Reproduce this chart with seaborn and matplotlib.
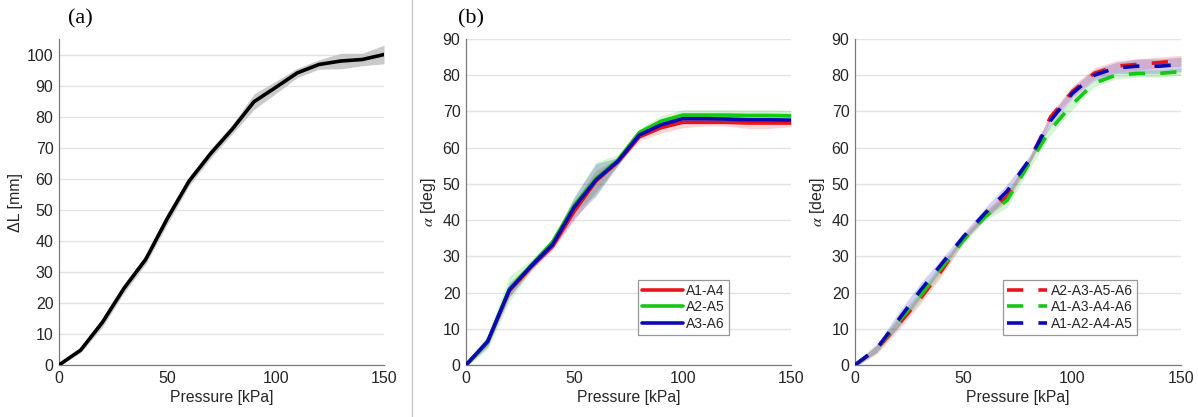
import numpy as np
import pandas as pd
import matplotlib
matplotlib.use("Agg")
import matplotlib.pyplot as plt
import seaborn as sns

# ---------------- data ----------------
pressure = [0, 10, 20, 30, 40, 50, 60, 70, 80, 90, 100, 110, 120, 130, 140, 150]

# (a) elongation
dL_mean = [0, 4.8, 13.7, 24.7, 34, 47.2, 59.2, 68.1, 76, 84.8, 89.4, 94.1, 96.8, 97.9, 98.4, 100]
dL_sd = [0.3, 0.8, 1.5, 1.5, 1.5, 1.8, 1.5, 1.5, 1.5, 2.5, 2.0, 1.5, 1.5, 2.5, 2.0, 3.0]

# (b) bending, two-actuator pairs
b_labels = ["A1-A4", "A2-A5", "A3-A6"]
b_A1A4 = [0, 6.4, 20.5, 27, 32.8, 42.5, 50.8, 56, 63, 65.5, 67, 67, 67, 66.8, 66.8, 66.8]
b_A2A5 = [0, 6.4, 21, 27.5, 34, 44.2, 51.5, 56.5, 64.2, 67.3, 69, 69, 69, 68.9, 68.9, 68.8]
b_A3A6 = [0, 6.5, 20.7, 27.3, 33.3, 43.6, 51.1, 56.2, 63.5, 66.3, 68, 68, 67.9, 67.7, 67.7, 67.6]
b_A1A4_sd = [0.5, 1.0, 1.5, 1.0, 1.0, 2.5, 3.0, 1.0, 1.0, 1.5, 1.5, 1.0, 1.0, 1.5, 1.5, 1.0]
b_A2A5_sd = [0.5, 2.0, 3.5, 1.5, 1.0, 2.0, 4.5, 1.5, 1.0, 1.5, 1.5, 1.5, 1.5, 1.5, 1.5, 1.5]
b_A3A6_sd = [0.5, 1.5, 2.0, 1.0, 1.0, 3.0, 4.5, 1.0, 1.0, 1.0, 1.0, 1.0, 1.0, 1.0, 1.0, 1.0]

# (b, right) bending, four-actuator groups
c_labels = ["A2-A3-A5-A6", "A1-A3-A4-A6", "A1-A2-A4-A5"]
c_r = [0, 4.5, 11.2, 18.3, 26.2, 35, 41.5, 46.5, 56, 68.5, 75.5, 80.5, 82.5, 83, 83.5, 84]
c_g = [0, 4.5, 12, 19, 27, 34.5, 41, 45.5, 55.5, 65, 72, 77.8, 80, 80.5, 80.5, 81]
c_b = [0, 4.5, 12.5, 20.5, 28, 35.5, 42, 48, 56.5, 67.5, 75, 80, 82, 82.5, 82.5, 83]
c_r_sd = [0.5, 1.5, 1.5, 1.5, 1.5, 1.0, 1.0, 1.5, 1.0, 1.0, 1.5, 1.5, 1.5, 1.5, 1.5, 1.5]
c_g_sd = [0.5, 1.0, 1.5, 1.5, 1.5, 1.0, 1.0, 2.0, 1.5, 1.5, 1.5, 1.0, 1.0, 1.0, 1.0, 1.0]
c_b_sd = [0.5, 1.0, 2.0, 2.0, 1.5, 1.0, 1.5, 2.0, 1.0, 1.5, 1.5, 1.5, 1.5, 2.0, 2.0, 2.0]

colors = ["#e8141c", "#14c814", "#0a0ab4"]

# ---------------- style ----------------
sns.set_theme(style="white")
plt.rcParams["font.family"] = ["Liberation Sans", "DejaVu Sans"]
plt.rcParams["mathtext.fontset"] = "stix"
txt = "#262626"
spine_c = "#7a7a7a"

fig = plt.figure(figsize=(11.98, 4.17), dpi=100)
W, H = 1198, 417


def add_axes(x0, x1, y_top, y_bot):
    return fig.add_axes([x0 / W, 1 - y_bot / H, (x1 - x0) / W, (y_bot - y_top) / H])


axA = add_axes(59, 384, 39, 365)
axB = add_axes(466, 791, 39, 365)
axC = add_axes(855, 1181, 39, 365)


def style_ax(ax, ymax, ylabel):
    ax.set_xlim(0, 150)
    ax.set_ylim(0, ymax)
    ax.set_xticks([0, 50, 100, 150])
    ax.set_yticks(np.arange(0, 91, 10) if ymax == 90 else np.arange(0, 101, 10))
    ax.grid(axis="y", color="#e3e3e3", linewidth=1.0)
    ax.grid(axis="x", visible=False)
    ax.set_axisbelow(True)
    for s in ["top", "right"]:
        ax.spines[s].set_visible(False)
    for s in ["left", "bottom"]:
        ax.spines[s].set_color(spine_c)
        ax.spines[s].set_linewidth(0.9)
    ax.tick_params(axis="both", direction="in", length=3, width=0.8, color=spine_c,
                   labelsize=11.5, labelcolor=txt, pad=4)
    ax.set_xlabel("Pressure [kPa]", fontsize=11.3, color=txt, labelpad=3)
    ax.set_ylabel(ylabel, fontsize=11.5, color=txt, labelpad=3)


def style_legend(ax, anchor):
    h, l = ax.get_legend_handles_labels()
    leg = ax.legend(h, l, loc="lower right", bbox_to_anchor=anchor, borderaxespad=0,
                    fontsize=10, frameon=True, fancybox=False, edgecolor="#7f7f7f",
                    handlelength=2.9, handletextpad=0.25, labelspacing=0.18, borderpad=0.3)
    leg.get_frame().set_linewidth(0.9)
    for line in leg.get_lines():
        line.set_linewidth(2.6)
    for t in leg.get_texts():
        t.set_color(txt)


# ---------------- (a) ----------------
dfA = pd.DataFrame({"Pressure": pressure, "dL": dL_mean})
lo = np.array(dL_mean) - np.array(dL_sd)
hi = np.array(dL_mean) + np.array(dL_sd)
axA.fill_between(pressure, lo, hi, color="#bdbdbd", alpha=0.8, linewidth=0, zorder=1)
sns.lineplot(data=dfA, x="Pressure", y="dL", color="black", linewidth=2.6, ax=axA, zorder=3)
style_ax(axA, 105, "ΔL [mm]")

# ---------------- (b) ----------------
b_series = [b_A1A4, b_A2A5, b_A3A6]
b_sds = [b_A1A4_sd, b_A2A5_sd, b_A3A6_sd]
dfB = pd.concat([pd.DataFrame({"Pressure": pressure, "alpha": v, "series": n})
                 for n, v in zip(b_labels, b_series)], ignore_index=True)
for v, s, c in zip(b_series, b_sds, colors):
    axB.fill_between(pressure, np.array(v) - np.array(s), np.array(v) + np.array(s),
                     color=c, alpha=0.18, linewidth=0, zorder=1)
sns.lineplot(data=dfB, x="Pressure", y="alpha", hue="series", hue_order=b_labels,
             palette=colors, linewidth=2.6, ax=axB, zorder=3)
style_ax(axB, 90, r"$\alpha$ [deg]")
style_legend(axB, (0.809, 0.092))

# ---------------- (b, right) ----------------
c_series = [c_r, c_g, c_b]
c_sds = [c_r_sd, c_g_sd, c_b_sd]
dfC = pd.concat([pd.DataFrame({"Pressure": pressure, "alpha": v, "series": n})
                 for n, v in zip(c_labels, c_series)], ignore_index=True)
for v, s, c in zip(c_series, c_sds, colors):
    axC.fill_between(pressure, np.array(v) - np.array(s), np.array(v) + np.array(s),
                     color=c, alpha=0.18, linewidth=0, zorder=1)
sns.lineplot(data=dfC, x="Pressure", y="alpha", hue="series", hue_order=c_labels,
             style="series", style_order=c_labels,
             dashes={n: (4.5, 4.2) for n in c_labels},
             palette=colors, linewidth=2.6, ax=axC, zorder=3)
style_ax(axC, 90, r"$\alpha$ [deg]")
style_legend(axC, (0.865, 0.092))

# ---------------- panel labels & separator ----------------
fig.text(80 / W, 1 - 19 / H, "(a)", fontsize=16, family=["Liberation Serif"],
         ha="center", va="center", color="black")
fig.text(471 / W, 1 - 19 / H, "(b)", fontsize=16, family=["Liberation Serif"],
         ha="center", va="center", color="black")
fig.add_artist(plt.Line2D([412 / W, 412 / W], [0, 1], color="#c8c8c8", linewidth=1.0))

fig.savefig("out.png", dpi=100)
